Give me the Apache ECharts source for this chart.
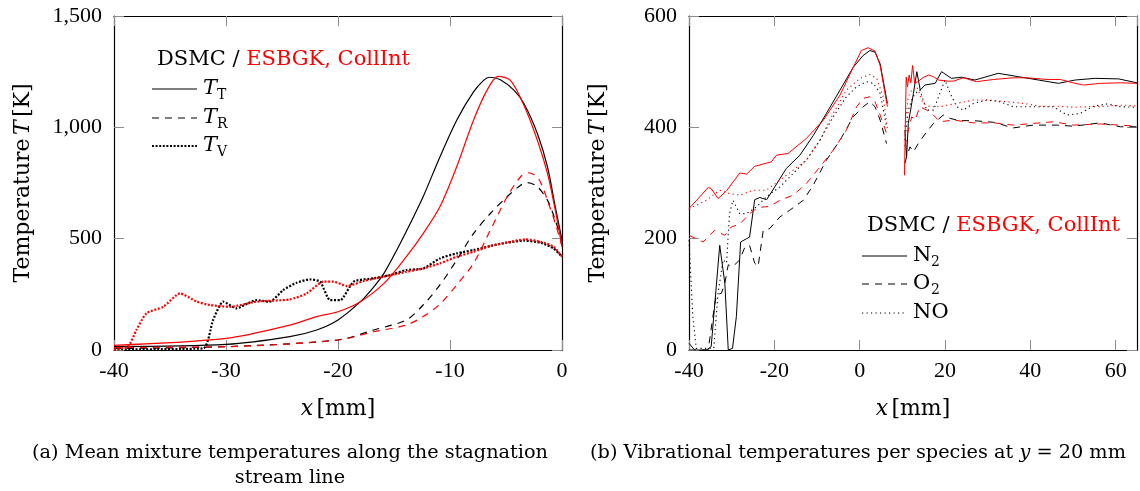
<!DOCTYPE html>
<html>
<head>
<meta charset="utf-8">
<script src="https://cdn.jsdelivr.net/npm/echarts@6/dist/echarts.min.js"></script>
<style>html,body{margin:0;padding:0;background:#fff}#c{width:1140px;height:491px}</style>
</head>
<body>
<div id="c"></div>
<script>
// ---------- Panel (a): mean mixture temperatures ----------
const aTT_dsmc_x = [-40,-30,-24.3,-21.9,-20,-18,-16.8,-15.9,-14.75,-13.55,-12.4,-10.9,-9.4,-7.9,-7.0,-6.47,-5.5,-4.3,-3.4,-2.2,-1.3,-0.6,0];
const aTT_dsmc_y = [15,25,60,90,135,217,284,344,449,568,688,867,1032,1159,1211,1225,1214,1167,1107,972,823,643,494];
const aTT_es_x = [-40,-30,-24.3,-21.9,-20,-18,-15.9,-13.9,-12.4,-10.9,-9.4,-7.9,-6.7,-5.7,-4.6,-3.4,-2.2,-1.3,-0.6,0];
const aTT_es_y = [21,52,112,150,172,217,299,419,523,643,823,1032,1166,1229,1211,1099,942,793,628,464];
const aTR_dsmc_x = [-40,-30,-20,-16.8,-13.9,-12.4,-10.9,-9.4,-7.9,-6.4,-4.9,-3.7,-3.1,-2.2,-1.3,-0.6,0];
const aTR_dsmc_y = [7,15,45,90,135,202,292,404,523,613,688,740,752,733,673,583,486];
const aTR_es_x = [-40,-30,-20,-16.8,-13.9,-12.4,-10.9,-9.4,-7.9,-6.4,-4.9,-3.7,-3.0,-2.1,-1.2,-0.5,0];
const aTR_es_y = [12,15,45,82,112,150,206,292,389,538,688,778,796,770,658,553,464];
const aTV_dsmc_x = [-40,-32.05,-31.15,-30.25,-29.05,-28.2,-27.3,-26.1,-24.9,-23.7,-22.5,-21.6,-20.7,-19.8,-18.6,-16.8,-15.35,-13.9,-12.4,-10.9,-9.4,-7.9,-6.4,-4.9,-3.4,-1.9,-0.75,0];
const aTV_dsmc_y = [3,7,135,217,187,206,224,217,269,302,317,307,224,224,307,322,337,359,366,411,434,449,467,482,491,482,456,419];
const aTV_es_x = [-40,-38.75,-38.0,-37.1,-35.6,-34.1,-32.6,-31.45,-29.65,-27.3,-24.3,-22.8,-21.3,-20.4,-19.2,-17.7,-15.95,-13.9,-12.4,-10.9,-9.4,-7.9,-6.4,-4.9,-3.3,-1.9,-0.75,0];
const aTV_es_y = [3,15,90,165,194,254,217,202,194,217,227,254,307,307,287,310,329,351,366,389,419,441,467,483,497,486,464,419];

// ---------- Panel (b): vibrational temperatures per species (null = gap) ----------
const bN2_dsmc_x = [-40,-38.7,-35.9,-34.8,-32.8,-31.6,-30.8,-29.8,-28.9,-27.9,-26.5,-25.8,-24.6,-23.4,-21.8,-19.9,-17.2,-14.0,-10.9,-7.8,-4.6,-1.5,0.8,2.4,3.6,4.8,6.5,8.5,10.6,11.0,11.4,12.6,13.4,14.2,15.3,17.7,19.2,21.5,23.9,27.0,32.5,37.2,41.9,46.6,50.5,55.2,60.7,65];
const bN2_dsmc_y = [12,0,0,6,188,120,0,3,60,194,200,203,270,274,270,293,326,350,385,425,467,508,529,538,535,514,443,null,395,347,407,461,500,467,476,479,500,488,490,485,497,491,485,479,485,488,487,480];
const bN2_es_x = [-40,-37.5,-35.5,-34.8,-33.2,-31.2,-28.1,-26.5,-24.6,-20.7,-19.5,-16.8,-12.5,-8.5,-4.6,-1.5,0.4,2.0,3.6,4.8,6.5,8.5,10.5,10.9,11.2,11.6,12.0,12.4,12.9,13.6,15.0,16.2,17.3,18.5,20.5,22.0,24.3,27.4,31.4,36.0,39.2,43.9,47.0,50.5,52.5,56.4,61.1,65];
const bN2_es_y = [254,275,292,290,272,286,318,316,330,338,350,353,380,413,458,508,538,543,537,511,437,null,314,490,473,494,480,511,479,482,490,494,491,485,483,483,489,482,486,489,489,486,486,479,476,479,480,479];
const bO2_dsmc_x = [-40,-35.5,-34.4,-33.6,-32.4,-31.6,-30.8,-29.7,-28.1,-26.9,-25.8,-24.6,-23.8,-22.6,-21.1,-18.7,-16.4,-13.2,-10.9,-7.8,-4.6,-1.5,0.8,2.4,3.6,4.8,6.3,8.5,10.6,11.0,11.8,12.6,13.75,15.7,17.3,19.6,21.2,23.5,26.7,31.4,36.0,40.7,46.2,50.1,56.4,61.1,65];
const bO2_dsmc_y = [0,0,60,99,102,120,153,150,162,185,188,156,150,215,218,239,251,269,296,341,377,419,437,446,437,413,371,null,335,347,365,356,371,392,407,422,416,412,412,409,399,404,404,402,408,401,401];
const bO2_es_x = [-40,-38.3,-36.7,-34.0,-31.6,-30.1,-28.1,-25.8,-23.8,-21.1,-18.7,-15.6,-12.5,-9.3,-6.2,-3.1,-0.7,0.8,2.4,3.6,4.8,6.3,8.5,10.6,11.4,12.2,13.0,14.1,15.7,17.3,18.8,22.0,26.7,31.4,36.0,40.7,45.4,50.1,56.4,61.1,65];
const bO2_es_y = [206,200,194,215,206,221,226,245,256,258,269,278,299,329,359,395,437,452,455,446,422,389,null,365,395,419,413,437,431,422,410,413,408,408,404,407,410,404,406,404,402];
const bNO_dsmc_x = [-40,-39.1,-38.3,-34.2,-33.2,-32.0,-31.2,-30.5,-29.7,-28.1,-26.5,-24.2,-21.9,-18.7,-15.6,-12.5,-9.3,-6.2,-3.1,-0.7,1.6,3.2,4.8,6.3,8.5,10.6,11.4,12.2,13.0,14.1,15.7,17.3,18.8,20.0,21.2,22.75,24.3,26.7,29.8,32.9,36.0,40.7,45.4,48.6,51.7,54.8,58.0,61.1,65];
const bNO_dsmc_y = [197,60,3,3,102,162,156,245,269,245,245,257,275,293,317,341,377,419,455,473,482,479,461,401,null,377,431,449,461,467,431,431,461,485,461,437,431,443,449,446,437,437,437,422,425,438,442,437,436];
const bNO_es_x = [-40,-39.1,-35.9,-32.8,-30.5,-28.1,-25.0,-21.9,-18.7,-15.6,-12.5,-9.3,-6.2,-3.1,0.06,2.4,4.0,5.5,6.5,8.5,10.6,11.4,12.2,13.4,14.9,16.5,18.8,22.75,26.7,30.6,34.5,38.4,42.3,46.2,50.1,54.0,58.0,61.9,65];
const bNO_es_y = [254,257,269,287,281,278,287,287,305,323,341,377,425,467,488,495,488,455,398,null,401,455,467,473,443,437,437,443,449,449,446,443,438,438,436,437,438,440,438];

const aXTicks = {min:-40, max:0, interval:10};
const aYTicks = {min:0, max:1500, interval:500};
const bXTicks = {min:-40, max:65, interval:20};
const bYTicks = {min:0, max:600, interval:200};

const NUMFONT = '"Liberation Serif", "Times New Roman", serif';
const FONT = '"DejaVu Serif", serif';
const BLACK = '#000000', RED = '#ff0000';

function pts(xs, ys){ return xs.map((x,i)=> [x, ys[i] === null ? '-' : ys[i]]); }

const axisLine = {show:true, onZero:false, lineStyle:{color:'#000', width:1.2}};
const axisTick = {show:true, inside:true, length:10, lineStyle:{color:'#8c8c8c', width:1}};
const lbl = {color:'#000', fontFamily:NUMFONT, fontSize:22};
const nameRich = {
  a:{fontFamily:FONT, fontSize:22, color:'#000'},
  i:{fontFamily:FONT, fontSize:22, fontStyle:'italic', color:'#000'}
};

function xPair(grid, t, showMax){
  return [
    {gridIndex:grid, type:'value', min:t.min, max:t.max, interval:t.interval, position:'bottom',
     axisLine, axisTick, splitLine:{show:false},
     axisLabel:Object.assign({margin:10, showMaxLabel:showMax}, lbl),
     name:'{i|x} {a|[mm]}', nameLocation:'middle', nameGap:48, nameTextStyle:{rich:nameRich}},
    {gridIndex:grid, type:'value', min:t.min, max:t.max, interval:t.interval, position:'top',
     axisLine, axisTick, splitLine:{show:false}, axisLabel:{show:false}}
  ];
}
function yPair(grid, t){
  return [
    {gridIndex:grid, type:'value', min:t.min, max:t.max, interval:t.interval, position:'left',
     axisLine, axisTick, splitLine:{show:false},
     axisLabel:Object.assign({margin:12}, lbl),
     name:'{a|Temperature} {i|T} {a|[K]}', nameLocation:'middle', nameGap:80, nameRotate:90,
     nameTextStyle:{rich:nameRich}},
    {gridIndex:grid, type:'value', min:t.min, max:t.max, interval:t.interval, position:'right',
     axisLine, axisTick, splitLine:{show:false}, axisLabel:{show:false}}
  ];
}

function line(xi, yi, data, color, type, width, smooth){
  return {type:'line', xAxisIndex:xi, yAxisIndex:yi, data, symbol:'none', smooth:smooth||false,
    connectNulls:false, silent:true,
    lineStyle:{color, width, type, cap:'butt', join:'round'}};
}
const DASH = [7,6];
const DOTA = [2,1.6];
const DOTB = [1.2,3.3];

const series = [
  line(0,0,pts(aTT_dsmc_x,aTT_dsmc_y),BLACK,'solid',1.2,0.3),
  line(0,0,pts(aTR_dsmc_x,aTR_dsmc_y),BLACK,DASH,1.2,0.3),
  line(0,0,pts(aTV_dsmc_x,aTV_dsmc_y),BLACK,DOTA,2.2,0.2),
  line(0,0,pts(aTT_es_x,aTT_es_y),RED,'solid',1.2,0.3),
  line(0,0,pts(aTR_es_x,aTR_es_y),RED,DASH,1.2,0.3),
  line(0,0,pts(aTV_es_x,aTV_es_y),RED,DOTA,2.2,0.2),
  line(2,2,pts(bN2_dsmc_x,bN2_dsmc_y),BLACK,'solid',1),
  line(2,2,pts(bO2_dsmc_x,bO2_dsmc_y),BLACK,DASH,1),
  line(2,2,pts(bNO_dsmc_x,bNO_dsmc_y),BLACK,DOTB,1.1),
  line(2,2,pts(bN2_es_x,bN2_es_y),RED,'solid',1),
  line(2,2,pts(bO2_es_x,bO2_es_y),RED,DASH,1),
  line(2,2,pts(bNO_es_x,bNO_es_y),RED,DOTB,1.1)
];

function txt(x, y, text, opts){
  return {type:'text', silent:true, style:Object.assign({x, y, text, fill:'#000',
    font:'21px ' + FONT, textAlign:'left', textVerticalAlign:'middle'}, opts||{})};
}
function segm(x1, x2, y, dash, w){
  return {type:'line', silent:true, shape:{x1, y1:y, x2, y2:y},
    style:{stroke:'#000', lineWidth:w, lineDash:dash}};
}
function head(x, y){
  return {type:'text', silent:true, style:{x, y, text:'{k|DSMC / }{r|ESBGK, CollInt}',
    textAlign:'left', textVerticalAlign:'middle', font:'21px ' + FONT,
    rich:{k:{fill:'#000', font:'21px ' + FONT}, r:{fill:'#ff0000', font:'21px ' + FONT}}}};
}
function tsub(x, y, s){
  return [txt(x, y, 'T', {font:'italic 21px ' + FONT}),
          txt(x + 14, y + 6, s, {font:'14px ' + FONT})];
}

const graphic = [].concat(
  [head(157, 60),
   segm(152, 197, 89, null, 1.2), segm(152, 197, 118, DASH, 1.2), segm(152, 197, 146, DOTA, 2.2)],
  tsub(203, 89, 'T'), tsub(203, 118, 'R'), tsub(203, 146, 'V'),
  [head(867, 226),
   segm(862, 907, 256, null, 1), segm(862, 907, 284, DASH, 1), segm(862, 907, 313, DOTB, 1.1),
   txt(913, 256, 'N'), txt(931, 262, '2', {font:'14px ' + FONT}),
   txt(913, 284, 'O'), txt(931, 290, '2', {font:'14px ' + FONT}),
   txt(913, 313, 'NO'),
   txt(290, 453, '(a) Mean mixture temperatures along the stagnation', {textAlign:'center', font:'19.3px ' + FONT}),
   txt(290, 478, 'stream line', {textAlign:'center', font:'19.3px ' + FONT}),
   {type:'text', silent:true, style:{x:858, y:453, textAlign:'center', textVerticalAlign:'middle',
     text:'{a|(b) Vibrational temperatures per species at }{i|y}{a| = 20 mm}',
     rich:{a:{fill:'#000', font:'19.3px ' + FONT}, i:{fill:'#000', font:'italic 19.3px ' + FONT}}}}
  ]
);

const option = {
  animation:false,
  backgroundColor:'#ffffff',
  grid:[{left:114, top:16, width:448, height:334}, {left:689, top:16, width:448, height:334}],
  xAxis:[].concat(xPair(0, aXTicks, true), xPair(1, bXTicks, false)),
  yAxis:[].concat(yPair(0, aYTicks), yPair(1, bYTicks)),
  series,
  graphic
};
const chart = echarts.init(document.getElementById('c'), null, {renderer:'canvas'});
chart.setOption(option);
</script>
</body>
</html>
